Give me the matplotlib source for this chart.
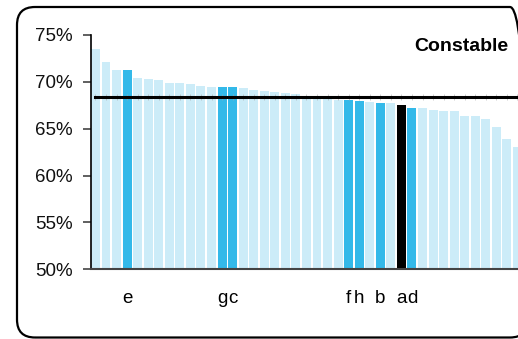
import matplotlib
matplotlib.use("Agg")
import matplotlib.pyplot as plt
from matplotlib.patches import FancyBboxPatch
from matplotlib.transforms import IdentityTransform

plt.rcParams['font.family'] = ['Liberation Sans', 'DejaVu Sans']

# bar values (%), sorted descending; the chart is cut off at the right
values = [73.5, 72.1, 71.3, 71.3, 70.4, 70.3, 70.2, 69.9, 69.9, 69.8,
          69.6, 69.5, 69.5, 69.5, 69.3, 69.1, 69.0, 68.95, 68.8, 68.7,
          68.5, 68.45, 68.4, 68.05, 68.05, 67.95, 67.85, 67.75, 67.75, 67.5,
          67.2, 67.2, 67.0, 66.9, 66.9, 66.35, 66.35, 66.0, 65.2, 63.9,
          63.05]
# letters under the highlighted bars
labels = [''] * len(values)
labels[3] = 'e'
labels[12] = 'g'
labels[13] = 'c'
labels[24] = 'f'
labels[25] = 'h'
labels[27] = 'b'
labels[29] = 'a'
labels[30] = 'd'
average = 68.42
title = 'Constable'
yticks = [50, 55, 60, 65, 70, 75]

light = '#CCECF8'
dark = '#33B9E9'

colors = []
for lab in labels:
    if lab == 'a':
        colors.append('black')
    elif lab:
        colors.append(dark)
    else:
        colors.append(light)

fig = plt.figure(figsize=(5.18, 3.39), dpi=100)
ax = fig.add_axes([90.5 / 518, 69.7 / 339, 427.5 / 518, 234.3 / 339])

x = list(range(len(values)))
ax.bar(x, [v - 50 for v in values], bottom=50, width=0.85, color=colors, zorder=2)

# average line, faint tick marks poke out of it at every bar
ax.plot(x, [average] * len(x), ls='none', marker='|', ms=3.8, mew=0.4,
        color='#AAAAAA', zorder=3)
ax.plot([0, len(values) + 1], [average, average], color='black', lw=2.2, zorder=4)

ax.set_ylim(50, 75)
ax.set_xlim(-0.47, 40.05)
ax.set_yticks(yticks)
ax.set_yticklabels(['%d%%' % t for t in yticks], fontsize=13.5)

hx = [i for i, lab in enumerate(labels) if lab]
ax.set_xticks(hx)
ax.set_xticklabels([labels[i] for i in hx], fontsize=13.5)
ax.tick_params(axis='x', length=0, pad=15)
ax.tick_params(axis='y', length=6, width=1.2, pad=7, colors='#444444',
               labelcolor='#111111')

for s in ['top', 'right']:
    ax.spines[s].set_visible(False)
ax.spines['left'].set_color('black')
ax.spines['left'].set_linewidth(1.2)
ax.spines['bottom'].set_color('#444444')
ax.spines['bottom'].set_linewidth(1.5)

fig.text(508 / 518, (339 - 50.7) / 339, title, ha='right', va='baseline',
         fontsize=14, fontweight='bold')

# rounded frame round the chart
box = FancyBboxPatch((17, 1.5), 511, 330.5, boxstyle='round,pad=0,rounding_size=18',
                     transform=IdentityTransform(), fill=False, lw=1.6,
                     edgecolor='black')
fig.add_artist(box)

fig.savefig('out.png', dpi=100)
